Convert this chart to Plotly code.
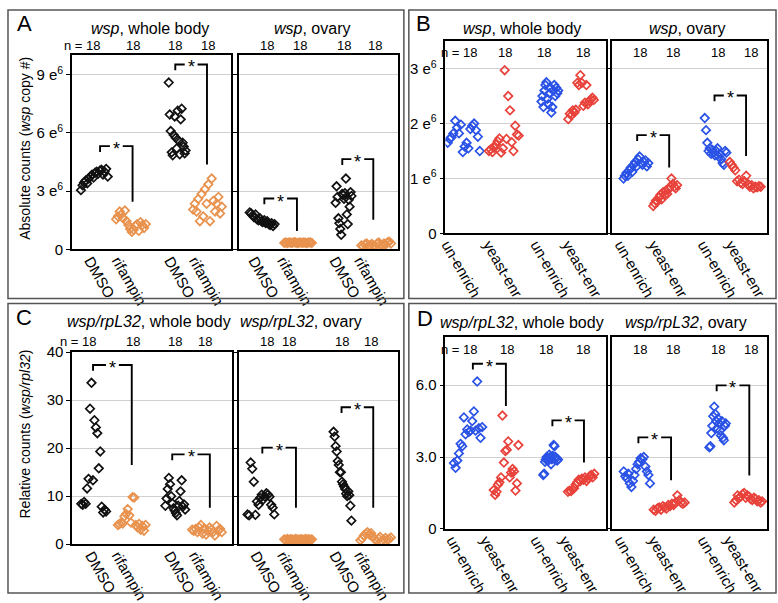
import numpy as np
import plotly.graph_objects as go

W, H = 778, 603
FONT = "Liberation Sans, Arial, Helvetica, sans-serif"
BLACK = "#111111"
ORANGE = "#E8924E"
BLUE = "#2A52E6"
RED = "#E8423B"

# ---------------- data (listed left-to-right within each cluster) ----------------
TREAT_LABELS = ["DMSO", "rifampin", "DMSO", "rifampin"]
DIET_LABELS = ["un-enrich", "yeast-enr", "un-enrich", "yeast-enr"]

# Panel A: absolute counts (wsp copy #), in units of 1e6
A_WB_DMSO1 = [3.05, 3.3, 3.45, 3.55, 3.4, 3.65, 3.75, 3.85, 3.7, 3.95, 4.0, 3.9, 4.05, 4.1, 3.85, 4.0, 4.15, 3.75]
A_WB_RIF1 = [1.55, 1.7, 1.95, 1.8, 1.6, 2.0, 1.45, 1.25, 1.05, 0.9, 1.0, 1.2, 1.3, 0.95, 1.4, 1.25, 1.1, 1.3]
A_WB_DMSO2 = [8.6, 6.95, 6.1, 5.0, 4.85, 5.9, 6.85, 5.75, 5.2, 7.15, 5.6, 4.9, 6.7, 7.25, 5.5, 5.3, 4.95, 5.1]
A_WB_RIF2 = [2.05, 2.35, 1.95, 2.6, 1.45, 2.85, 1.7, 3.1, 2.35, 3.35, 1.45, 3.65, 2.5, 1.95, 2.35, 2.7, 1.85, 2.2]
A_OV_DMSO1 = [1.9, 1.85, 1.75, 1.65, 1.8, 1.55, 1.5, 1.6, 1.45, 1.4, 1.5, 1.35, 1.45, 1.3, 1.25, 1.35, 1.2, 1.3]
A_OV_RIF1 = [0.33, 0.35, 0.32, 0.36, 0.34, 0.33, 0.37, 0.35, 0.32, 0.34, 0.36, 0.33, 0.35, 0.34, 0.32, 0.36, 0.35, 0.33]
A_OV_DMSO2 = [2.4, 3.25, 2.7, 1.6, 1.35, 1.05, 0.75, 2.85, 2.8, 2.6, 2.9, 3.65, 1.8, 1.3, 2.55, 2.2, 2.95, 2.75]
A_OV_RIF2 = [0.2, 0.15, 0.25, 0.3, 0.18, 0.22, 0.28, 0.2, 0.15, 0.3, 0.35, 0.25, 0.2, 0.3, 0.25, 0.35, 0.4, 0.3]
A_WB_BR_TOP = [5.32, 9.53]
A_WB_BR_END = [2.45, 4.37]
A_OV_BR_TOP = [2.62, 4.65]
A_OV_BR_END = [0.95, 1.53]

# Panel B: absolute counts, units of 1e6
B_WB_UN1 = [1.65, 1.72, 1.75, 1.82, 2.05, 1.93, 1.82, 1.98, 1.48, 1.58, 1.65, 1.55, 1.9, 1.96, 2.0, 1.88, 1.76, 1.5]
B_WB_YE1 = [1.5, 1.53, 1.48, 1.56, 1.62, 1.68, 1.73, 1.47, 1.55, 2.97, 1.72, 2.5, 2.24, 1.66, 1.5, 1.96, 1.8, 1.78]
B_WB_UN2 = [2.4, 2.5, 2.3, 2.6, 2.7, 2.75, 2.45, 2.35, 2.55, 2.65, 2.2, 2.3, 2.6, 2.7, 2.5, 2.65, 2.55, 2.6]
B_WB_YE2 = [2.08, 2.18, 2.15, 2.24, 2.2, 2.25, 2.74, 2.7, 2.88, 2.74, 2.32, 2.38, 2.7, 2.35, 2.41, 2.44, 2.47, 2.43]
B_OV_UN1 = [1.0, 1.05, 1.1, 1.05, 1.15, 1.2, 1.12, 1.25, 1.3, 1.22, 1.35, 1.4, 1.28, 1.25, 1.3, 1.33, 1.22, 1.28]
B_OV_YE1 = [0.5, 0.55, 0.6, 0.58, 0.65, 0.7, 0.62, 0.75, 0.7, 0.78, 0.72, 0.8, 0.85, 1.0, 0.9, 0.85, 0.82, 0.88]
B_OV_UN2 = [2.1, 1.88, 1.65, 1.5, 1.55, 1.45, 1.52, 1.48, 1.42, 1.5, 1.55, 1.4, 1.45, 1.35, 1.28, 1.25, 1.5, 1.47]
B_OV_YE2 = [1.3, 1.25, 1.2, 1.15, 0.95, 0.98, 0.92, 0.9, 0.95, 1.05, 0.9, 0.85, 0.88, 0.82, 0.85, 0.84, 0.86, 0.85]
B_OV_BR_TOP = [1.79, 2.51]
B_OV_BR_END = [1.2, 1.41]

# Panel C: relative counts (wsp/rpl32)
C_WB_DMSO1 = [8.4, 8.2, 8.8, 8.4, 11.6, 13.6, 28.2, 33.6, 13.3, 25.8, 24.3, 23.1, 15.8, 19.3, 7.8, 6.6, 7.2, 6.8]
C_WB_RIF1 = [4.0, 4.2, 4.5, 4.3, 5.8, 6.3, 7.3, 6.0, 4.5, 9.8, 9.7, 4.0, 3.5, 4.2, 3.0, 3.8, 2.8, 4.0]
C_WB_DMSO2 = [8.0, 9.5, 11.5, 13.8, 12.5, 10.0, 8.5, 7.5, 7.0, 6.5, 6.0, 8.0, 9.0, 11.0, 13.3, 7.8, 8.3, 7.2]
C_WB_RIF2 = [3.0, 2.8, 3.2, 2.5, 3.5, 4.0, 2.2, 3.3, 2.0, 2.8, 3.5, 3.0, 2.5, 1.8, 3.8, 2.8, 3.2, 2.5]
C_OV_DMSO1 = [6.2, 6.0, 17.0, 15.7, 13.0, 6.1, 8.9, 8.2, 9.6, 10.3, 9.3, 9.9, 10.6, 10.3, 9.9, 8.2, 7.6, 6.2]
C_OV_RIF1 = [1.0, 0.9, 1.1, 0.95, 1.05, 1.0, 0.9, 1.1, 1.0, 0.95, 1.05, 1.0, 0.9, 1.1, 1.0, 1.05, 0.95, 1.0]
C_OV_DMSO2 = [23.4, 22.4, 20.4, 19.3, 17.3, 16.5, 15.0, 15.0, 13.0, 12.5, 12.0, 11.5, 10.5, 10.0, 11.0, 10.2, 8.0, 4.9]
C_OV_RIF2 = [0.8, 1.2, 1.8, 2.2, 2.5, 2.0, 2.3, 1.5, 1.0, 0.8, 1.2, 1.5, 0.7, 1.0, 1.3, 0.9, 1.1, 1.4]
C_WB_BR_TOP = [37.3, 18.7]
C_WB_BR_END = [16.5, 7.6]
C_OV_BR_TOP = [20.1, 28.5]
C_OV_BR_END = [7.6, 7.6]

# Panel D: relative counts
D_WB_UN1 = [2.75, 2.55, 2.85, 3.15, 3.55, 3.45, 4.65, 3.95, 4.15, 4.05, 4.1, 4.5, 4.9, 4.1, 6.15, 4.2, 3.8, 4.25]
D_WB_YE1 = [1.62, 1.42, 1.55, 1.85, 1.95, 2.15, 4.73, 2.77, 3.25, 3.3, 3.65, 2.15, 2.35, 2.5, 2.4, 1.6, 1.9, 3.5]
D_WB_UN2 = [2.25, 2.3, 2.8, 2.9, 3.0, 2.95, 2.85, 3.1, 3.0, 2.7, 2.9, 3.05, 3.5, 3.45, 3.0, 2.95, 2.85, 2.9]
D_WB_YE2 = [1.55, 1.6, 1.58, 1.65, 1.7, 1.85, 1.95, 2.05, 2.0, 2.1, 2.05, 2.15, 2.0, 2.1, 2.2, 2.25, 2.15, 2.3]
D_OV_UN1 = [2.4, 2.2, 2.1, 2.3, 1.9, 1.75, 2.0, 2.25, 2.5, 2.7, 2.8, 2.95, 2.9, 3.0, 2.6, 2.4, 2.25, 1.9]
D_OV_YE1 = [0.8, 0.75, 0.85, 0.9, 0.8, 0.95, 0.9, 0.85, 1.0, 0.95, 1.05, 1.0, 1.1, 1.4, 1.2, 1.1, 1.05, 1.1]
D_OV_UN2 = [3.4, 3.45, 4.0, 4.3, 4.7, 5.1, 4.8, 4.5, 4.2, 4.6, 4.4, 4.1, 3.9, 4.5, 3.8, 3.7, 4.3, 4.4]
D_OV_YE2 = [1.1, 1.2, 1.4, 1.3, 1.35, 1.45, 1.5, 1.3, 1.4, 1.35, 1.25, 1.2, 1.3, 1.25, 1.15, 1.2, 1.1, 1.15]
D_WB_BR_TOP = [6.89, 4.53]
D_WB_BR_END = [5.13, 2.77]
D_OV_BR_TOP = [3.82, 5.99]
D_OV_BR_END = [2.03, 2.23]

A_YTICKS = [0, 3, 6, 9]
B_YTICKS = [0, 1, 2, 3]
C_YTICKS = [0, 10, 20, 30, 40]
D_YTICKS = [0, 3, 6]

E6 = 1e6


def exp_labels(vals):
    return ["0" if v == 0 else f"{v} e<sup>6</sup>" for v in vals]


def scale(vals, f):
    return [v * f for v in vals]


# ---------------- layout description (pixel geometry) ----------------
SUBPLOTS = [
    dict(box=(65.7, 226.7, 47.7, 247.3), yr=[0, 10 * E6], ytv=scale(A_YTICKS, E6), ytt=exp_labels(A_YTICKS),
         showy=True, labels=TREAT_LABELS, lab_px=[87, 115, 168, 193], colors=[BLACK, ORANGE, BLACK, ORANGE],
         series=[scale(s, E6) for s in (A_WB_DMSO1, A_WB_RIF1, A_WB_DMSO2, A_WB_RIF2)],
         centers=[0.14, 0.37, 0.66, 0.85], hw=[0.084, 0.093, 0.053, 0.09],
         br_x=[(0.176, 0.38), (0.648, 0.847)], br_top=scale(A_WB_BR_TOP, E6), br_end=scale(A_WB_BR_END, E6),
         n_px=[97, 127, 170, 203], n_y=38, first_n=True),
    dict(box=(234.3, 395.0, 47.7, 247.3), yr=[0, 10 * E6], ytv=scale(A_YTICKS, E6), ytt=exp_labels(A_YTICKS),
         showy=False, labels=TREAT_LABELS, lab_px=[253, 282, 335, 360], colors=[BLACK, ORANGE, BLACK, ORANGE],
         series=[scale(s, E6) for s in (A_OV_DMSO1, A_OV_RIF1, A_OV_DMSO2, A_OV_RIF2)],
         centers=[0.146, 0.372, 0.658, 0.863], hw=[0.078, 0.087, 0.05, 0.093],
         br_x=[(0.16, 0.365), (0.65, 0.845)], br_top=scale(A_OV_BR_TOP, E6), br_end=scale(A_OV_BR_END, E6),
         n_px=[263, 296, 340, 372], n_y=38, first_n=False),
    dict(box=(443.0, 605.0, 33.0, 231.0), yr=[0, 3.5 * E6], ytv=scale(B_YTICKS, E6), ytt=exp_labels(B_YTICKS),
         showy=True, labels=DIET_LABELS, lab_px=[448, 490, 538, 570], colors=[BLUE, RED, BLUE, RED],
         series=[scale(s, E6) for s in (B_WB_UN1, B_WB_YE1, B_WB_UN2, B_WB_YE2)],
         centers=[0.114, 0.364, 0.651, 0.846], hw=[0.10, 0.093, 0.052, 0.08],
         br_x=[], br_top=[], br_end=[], n_px=[478, 503, 543, 582], n_y=45, first_n=True),
    dict(box=(611.7, 768.0, 33.0, 231.0), yr=[0, 3.5 * E6], ytv=scale(B_YTICKS, E6), ytt=exp_labels(B_YTICKS),
         showy=False, labels=DIET_LABELS, lab_px=[623, 657, 707, 735], colors=[BLUE, RED, BLUE, RED],
         series=[scale(s, E6) for s in (B_OV_UN1, B_OV_YE1, B_OV_UN2, B_OV_YE2)],
         centers=[0.152, 0.341, 0.667, 0.859], hw=[0.08, 0.077, 0.07, 0.1],
         br_x=[(0.16, 0.367), (0.66, 0.864)], br_top=scale(B_OV_BR_TOP, E6), br_end=scale(B_OV_BR_END, E6),
         n_px=[640, 673, 718, 752], n_y=45, first_n=False),
    dict(box=(66.0, 227.0, 353.0, 550.7), yr=[0, 40], ytv=C_YTICKS, ytt=[str(v) for v in C_YTICKS],
         showy=True, labels=TREAT_LABELS, lab_px=[88, 115, 168, 193], colors=[BLACK, ORANGE, BLACK, ORANGE],
         series=[C_WB_DMSO1, C_WB_RIF1, C_WB_DMSO2, C_WB_RIF2],
         centers=[0.134, 0.373, 0.646, 0.845], hw=[0.078, 0.087, 0.062, 0.093],
         br_x=[(0.13, 0.373), (0.627, 0.863)], br_top=C_WB_BR_TOP, br_end=C_WB_BR_END,
         n_px=[93, 127, 170, 200], n_y=342, first_n=True),
    dict(box=(234.0, 395.0, 353.0, 550.7), yr=[0, 40], ytv=C_YTICKS, ytt=[str(v) for v in C_YTICKS],
         showy=False, labels=TREAT_LABELS, lab_px=[255, 282, 335, 360], colors=[BLACK, ORANGE, BLACK, ORANGE],
         series=[C_OV_DMSO1, C_OV_RIF1, C_OV_DMSO2, C_OV_RIF2],
         centers=[0.14, 0.373, 0.652, 0.86], hw=[0.084, 0.087, 0.056, 0.096],
         br_x=[(0.149, 0.36), (0.646, 0.845)], br_top=C_OV_BR_TOP, br_end=C_OV_BR_END,
         n_px=[263, 285, 338, 368], n_y=342, first_n=False),
    dict(box=(443.0, 605.0, 337.7, 535.0), yr=[0, 8], ytv=D_YTICKS, ytt=["0" if v == 0 else f"{v:.1f}" for v in D_YTICKS],
         showy=True, labels=DIET_LABELS, lab_px=[453, 487, 538, 567], colors=[BLUE, RED, BLUE, RED],
         series=[D_WB_UN1, D_WB_YE1, D_WB_UN2, D_WB_YE2],
         centers=[0.141, 0.378, 0.656, 0.846], hw=[0.088, 0.077, 0.046, 0.082],
         br_x=[(0.171, 0.377), (0.667, 0.864)], br_top=D_WB_BR_TOP, br_end=D_WB_BR_END,
         n_px=[478, 505, 545, 582], n_y=350, first_n=True),
    dict(box=(611.7, 768.0, 337.7, 535.0), yr=[0, 8], ytv=D_YTICKS, ytt=["0" if v == 0 else f"{v:.1f}" for v in D_YTICKS],
         showy=False, labels=DIET_LABELS, lab_px=[623, 657, 707, 733], colors=[BLUE, RED, BLUE, RED],
         series=[D_OV_UN1, D_OV_YE1, D_OV_UN2, D_OV_YE2],
         centers=[0.158, 0.367, 0.68, 0.878], hw=[0.085, 0.1, 0.053, 0.09],
         br_x=[(0.168, 0.379), (0.674, 0.885)], br_top=D_OV_BR_TOP, br_end=D_OV_BR_END,
         n_px=[640, 673, 718, 752], n_y=350, first_n=False),
]

TITLES = [
    ("<i>wsp</i>, whole body", 144, 20), ("<i>wsp</i>, ovary", 308, 20),
    ("<i>wsp</i>, whole body", 520, 20), ("<i>wsp</i>, ovary", 687, 20),
    ("<i>wsp/rpL32</i>, whole body", 143, 322), ("<i>wsp/rpL32</i>, ovary", 297, 322),
    ("<i>wsp/rpL32</i>, whole body", 520, 323), ("<i>wsp/rpL32</i>, ovary", 686, 323),
]
YTITLES = [("Absolute counts (<i>wsp</i> copy #)", 18, 143), ("Relative counts (<i>wsp/rpl32</i>)", 18, 437)]
PANEL_LETTERS = [("A", 8, 15), ("B", 411, 15), ("C", 7, 317), ("D", 412, 318)]
PANEL_BOXES = [(1, 1, 401, 298), (406, 1, 777, 298), (1, 303, 401, 601), (406, 303, 777, 601)]

LABEL_SHIFT = 3.0  # px between tick position and visible start of rotated label
LEG_PX = 6.0       # short left leg of significance bracket
GAP_PX = 6.5       # half gap around the asterisk


def fx(px):
    return px / W


def fy(py):
    return 1 - py / H


fig = go.Figure()
layout = dict(width=W, height=H, margin=dict(l=0, r=0, t=0, b=0), showlegend=False,
              plot_bgcolor="white", paper_bgcolor="white",
              font=dict(family=FONT, size=14, color="black"))
shapes, annotations = [], []

for i, sp in enumerate(SUBPLOTS):
    k = "" if i == 0 else str(i + 1)
    xa, ya = "x" + k, "y" + k
    x0, x1, y0, y1 = sp["box"]
    w, h = x1 - x0, y1 - y0
    tickvals = [(p - LABEL_SHIFT - x0) / w for p in sp["lab_px"]]
    layout["xaxis" + k] = dict(domain=[fx(x0), fx(x1)], range=[0, 1], anchor=ya,
                               showgrid=False, zeroline=False, showline=True, mirror=True,
                               linecolor="black", linewidth=1.7, ticks="",
                               tickvals=tickvals, ticktext=sp["labels"], tickangle=60,
                               ticklabelstandoff=-5,
                               tickfont=dict(size=15, family=FONT, color="black"))
    layout["yaxis" + k] = dict(domain=[fy(y1), fy(y0)], range=sp["yr"], anchor=xa,
                               showgrid=True, gridcolor="#d0d0d0", gridwidth=1, zeroline=False,
                               showline=True, mirror=True, linecolor="black", linewidth=1.7,
                               ticks="outside", ticklen=4, tickwidth=1, tickcolor="black",
                               tickvals=sp["ytv"], ticktext=sp["ytt"], showticklabels=sp["showy"],
                               tickfont=dict(size=15, family=FONT, color="black"))
    for vals, c, hw, col in zip(sp["series"], sp["centers"], sp["hw"], sp["colors"]):
        xs = c + np.linspace(-hw, hw, len(vals))
        fig.add_trace(go.Scatter(x=xs, y=vals, xaxis=xa, yaxis=ya, mode="markers",
                                 marker=dict(symbol="diamond-open", size=6.5, color=col,
                                             line=dict(width=1.7, color=col)),
                                 hoverinfo="skip"))
    yspan = sp["yr"][1] - sp["yr"][0]
    leg = LEG_PX / h * yspan
    gap = GAP_PX / w
    for (bl, br), top, end in zip(sp["br_x"], sp["br_top"], sp["br_end"]):
        xm = (bl + br) / 2
        path = (f"M {bl},{top - leg} L {bl},{top} L {xm - gap},{top} "
                f"M {xm + gap},{top} L {br},{top} L {br},{end}")
        shapes.append(dict(type="path", path=path, xref=xa, yref=ya,
                           line=dict(color="black", width=1.9)))
        annotations.append(dict(x=xm, y=top, xref=xa, yref=ya, text="*", showarrow=False,
                                font=dict(size=18, family=FONT, color="black"),
                                xanchor="center", yanchor="middle", yshift=-3))
    # n labels
    for j, (p, vals) in enumerate(zip(sp["n_px"], sp["series"])):
        if j == 0 and sp["first_n"]:
            txt, anchor = f"n = {len(vals)}", "right"
        else:
            txt, anchor = str(len(vals)), "center"
        annotations.append(dict(x=fx(p), y=fy(sp["n_y"]), xref="paper", yref="paper", text=txt,
                                showarrow=False, xanchor=anchor, yanchor="middle",
                                font=dict(size=13, family=FONT, color="black")))

for txt, cx, cy in TITLES:
    annotations.append(dict(x=fx(cx), y=fy(cy), xref="paper", yref="paper", text=txt, showarrow=False,
                            xanchor="center", yanchor="middle", font=dict(size=16, family=FONT, color="black")))
for txt, cx, cy in YTITLES:
    annotations.append(dict(x=fx(cx), y=fy(cy), xref="paper", yref="paper", text=txt, showarrow=False,
                            textangle=-90, xanchor="center", yanchor="middle",
                            font=dict(size=14, family=FONT, color="black")))
for txt, lx, ly in PANEL_LETTERS:
    annotations.append(dict(x=fx(lx), y=fy(ly), xref="paper", yref="paper", text=txt, showarrow=False,
                            xanchor="left", yanchor="middle", font=dict(size=22, family=FONT, color="black")))
for bx0, by0, bx1, by1 in PANEL_BOXES:
    shapes.append(dict(type="rect", xref="paper", yref="paper", x0=fx(bx0), x1=fx(bx1), y0=fy(by1), y1=fy(by0),
                       line=dict(color="#555555", width=1.5), fillcolor="rgba(0,0,0,0)"))

layout["shapes"] = shapes
layout["annotations"] = annotations
fig.update_layout(**layout)
fig.write_html("out.html", config={"displayModeBar": False},
               post_script="document.body.style.margin='0px';document.body.style.overflow='hidden';")
